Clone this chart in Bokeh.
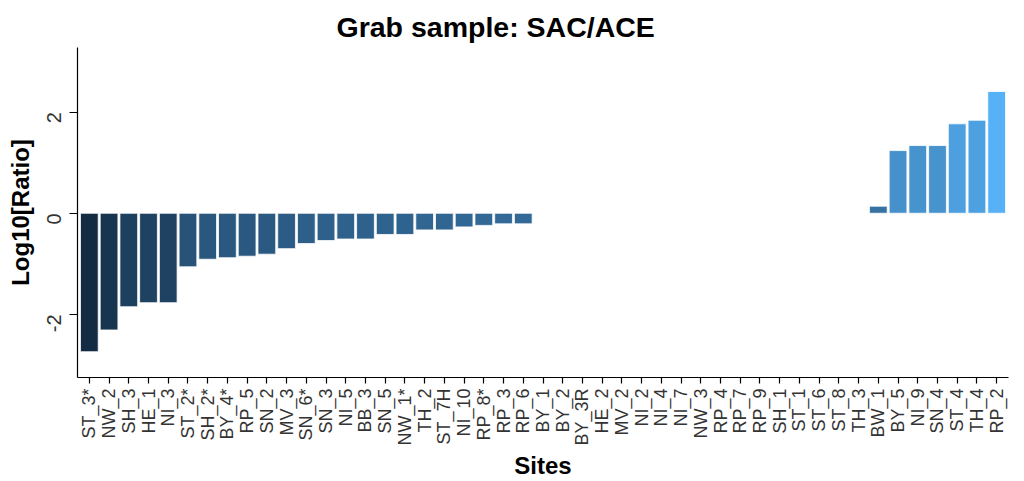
import math
import numpy as np
from bokeh.plotting import figure
from bokeh.models import ColumnDataSource, Range1d, FixedTicker
from bokeh.embed import file_html
from bokeh.resources import INLINE

# ---------------- data ----------------
title_text = "Grab sample: SAC/ACE"
sites = ["ST_3*", "NW_2", "SH_3", "HE_1", "NI_3", "ST_2*", "SH_2*", "BY_4*", "RP_5",
         "SN_2", "MV_3", "SN_6*", "SN_3", "NI_5", "BB_3", "SN_5", "NW_1*", "TH_2",
         "ST_7H", "NI_10", "RP_8*", "RP_3", "RP_6", "BY_1", "BY_2", "BY_3R", "HE_2",
         "MV_2", "NI_2", "NI_4", "NI_7", "NW_3", "RP_4", "RP_7", "RP_9", "SH_1",
         "ST_1", "ST_6", "ST_8", "TH_3", "BW_1", "BY_5", "NI_9", "SN_4", "ST_4",
         "TH_4", "RP_2"]
log_ratio = [-2.74, -2.31, -1.85, -1.77, -1.77, -1.06, -0.91, -0.88, -0.85, -0.81,
             -0.70, -0.60, -0.54, -0.51, -0.51, -0.42, -0.42, -0.33, -0.33, -0.27,
             -0.24, -0.21, -0.21,
             None, None, None, None, None, None, None, None, None, None, None, None,
             None, None, None, None, None,
             0.14, 1.24, 1.34, 1.34, 1.77, 1.84, 2.41]
y_ticks = [-2, 0, 2]
y_tick_labels = ["-2", "0", "2"]

# ------------- ggplot-like gradient (Lab interpolation) -------------
LOW, HIGH = "#132B43", "#56B1F7"
WHITE = np.array([0.95047, 1.0, 1.08883])

def hex2rgb(h):
    return np.array([int(h[i:i + 2], 16) / 255.0 for i in (1, 3, 5)])

def rgb2lab(c):
    c = np.where(c <= 0.04045, c / 12.92, ((c + 0.055) / 1.055) ** 2.4)
    M = np.array([[0.4124, 0.3576, 0.1805], [0.2126, 0.7152, 0.0722], [0.0193, 0.1192, 0.9505]])
    xyz = M @ c / WHITE
    f = np.where(xyz > 0.008856, np.cbrt(xyz), 7.787 * xyz + 16 / 116)
    return np.array([116 * f[1] - 16, 500 * (f[0] - f[1]), 200 * (f[1] - f[2])])

def lab2hex(lab):
    fy = (lab[0] + 16) / 116
    fx = fy + lab[1] / 500
    fz = fy - lab[2] / 200
    f = np.array([fx, fy, fz])
    xyz = np.where(f ** 3 > 0.008856, f ** 3, (f - 16 / 116) / 7.787) * WHITE
    Mi = np.array([[3.2406, -1.5372, -0.4986], [-0.9689, 1.8758, 0.0415], [0.0557, -0.2040, 1.0570]])
    c = Mi @ xyz
    c = np.where(c <= 0.0031308, 12.92 * c, 1.055 * np.clip(c, 0, None) ** (1 / 2.4) - 0.055)
    c = np.clip(c, 0, 1)
    return "#%02x%02x%02x" % tuple(int(round(v * 255)) for v in c)

lab_lo, lab_hi = rgb2lab(hex2rgb(LOW)), rgb2lab(hex2rgb(HIGH))
present = [(i, v) for i, v in enumerate(log_ratio) if v is not None]
vmin = min(v for _, v in present)
vmax = max(v for _, v in present)
xs = [i for i, _ in present]
tops = [v for _, v in present]
cols = [lab2hex(lab_lo + (v - vmin) / (vmax - vmin) * (lab_hi - lab_lo)) for v in tops]
src = ColumnDataSource(dict(x=xs, top=tops, color=cols))

# ---------------- figure ----------------
FONT = "Liberation Sans"
p = figure(width=1024, height=481, output_backend="svg", toolbar_location=None,
           x_range=Range1d(-0.6, len(sites) - 0.4), y_range=Range1d(-3.25, 3.28),
           min_border_left=77, min_border_right=16, min_border_top=47, min_border_bottom=104)
p.background_fill_color = "white"
p.border_fill_color = "white"
p.outline_line_color = None
p.grid.visible = False

p.vbar(x="x", top="top", bottom=0, width=0.9, fill_color="color",
       line_color="white", line_width=0.8, source=src)

p.title.text = title_text
p.title.align = "left"
p.title.offset = 259
p.title.standoff = 8
p.title.vertical_align = "middle"
p.title.text_font = FONT
p.title.text_font_size = "28.5px"
p.title.text_font_style = "bold"
p.title.text_color = "black"

xa = p.xaxis[0]
xa.ticker = FixedTicker(ticks=list(range(len(sites))))
xa.major_label_overrides = {i: s for i, s in enumerate(sites)}
xa.major_label_orientation = math.pi / 2
xa.axis_label = "Sites"

ya = p.yaxis[0]
ya.ticker = FixedTicker(ticks=y_ticks)
ya.major_label_overrides = dict(zip(y_ticks, y_tick_labels))
ya.major_label_orientation = math.pi / 2
ya.axis_label = "Log10[Ratio]"

for ax in (xa, ya):
    ax.axis_line_color = "black"
    ax.axis_line_width = 1.2
    ax.major_tick_line_color = "black"
    ax.major_tick_line_width = 1.2
    ax.minor_tick_line_color = None
    ax.major_tick_in = 0
    ax.major_label_text_font = FONT
    ax.major_label_text_color = "#333333"
    ax.axis_label_text_font = FONT
    ax.axis_label_text_font_style = "bold"
    ax.axis_label_text_font_size = "24px"
    ax.axis_label_text_color = "black"

xa.major_tick_out = 6
xa.major_label_text_font_size = "18px"
xa.major_label_standoff = 5
xa.axis_label_standoff = 3
ya.major_tick_out = 8
ya.major_label_text_font_size = "20px"
ya.major_label_standoff = 15
ya.axis_label_standoff = 4

open("out.html", "w").write(file_html(p, INLINE))
